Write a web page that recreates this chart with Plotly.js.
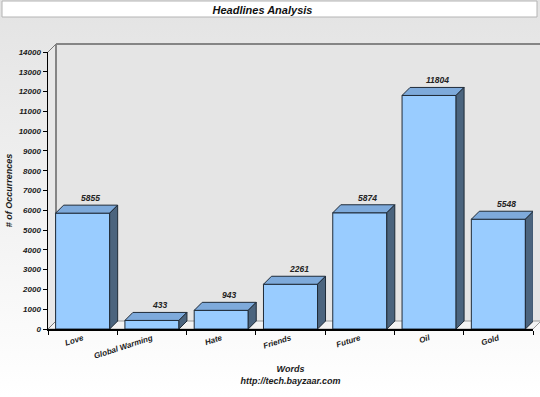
<!DOCTYPE html>
<html>
<head>
<meta charset="utf-8">
<script src="https://cdn.plot.ly/plotly-3.0.1.min.js"></script>
<style>
html,body{margin:0;padding:0;}
body{width:540px;height:397px;background:linear-gradient(to bottom,#e3e3e3 0px,#e6e6e6 40px,#ffffff 397px);}
#chart{width:540px;height:397px;}
</style>
</head>
<body>
<div id="chart"></div>
<script>
// ---- data ----
const categories = ['Love', 'Global Warming', 'Hate', 'Friends', 'Future', 'Oil', 'Gold'];
const occurrences = [5855, 433, 943, 2261, 5874, 11804, 5548];
const chartTitle = 'Headlines Analysis';
const xTitle = 'Words<br>http://tech.bayzaar.com';
const yTitle = '# of Occurrences';
const yMax = 14000;
const yStep = 1000;

// ---- geometry (pixels) ----
const L = 48, R = 533, T = 52, B = 329, W = 540, H = 397;
const PW = R - L, PH = B - T;
const D = 8;                       // 3D depth in px
const barW = 0.78;                 // bar width in category units
const n = categories.length;
const dx = D / (PW / n);           // depth in x data units
const dy = D / (PH / yMax);        // depth in y data units
const px = v => (v - L) / PW;      // pixel -> paper x
const py = v => (B - v) / PH;      // pixel -> paper y

const idx = categories.map((c, i) => i);
const bounds = [-0.5].concat(idx.map(i => i + 0.5));

// top faces and side faces from data
const topX = [], topY = [], sideX = [], sideY = [];
occurrences.forEach((v, i) => {
  const x0 = i - barW / 2, x1 = i + barW / 2;
  topX.push(x0, x0 + dx, x1 + dx, x1, x0, null);
  topY.push(v, v + dy, v + dy, v, v, null);
  sideX.push(x1, x1 + dx, x1 + dx, x1, x1, null);
  sideY.push(v, v + dy, dy, 0, v, null);
});

const edge = '#1f2b38';
const font = {family: 'Liberation Sans, Arial, sans-serif', size: 8, color: '#1a1a1a', weight: 'bold', style: 'italic'};
const titleFont = Object.assign({}, font, {size: 9});

const traces = [
  {type: 'bar', x: idx, y: occurrences, width: barW,
   marker: {color: '#99CCFF', line: {color: edge, width: 1}}, hoverinfo: 'skip'},
  {type: 'scatter', mode: 'lines', x: topX, y: topY, fill: 'toself', fillcolor: '#7EAADB',
   line: {color: edge, width: 1}, hoverinfo: 'skip', cliponaxis: false},
  {type: 'scatter', mode: 'lines', x: sideX, y: sideY, fill: 'toself', fillcolor: '#4B647E',
   line: {color: edge, width: 1}, hoverinfo: 'skip', cliponaxis: false}
];

const annotations = occurrences.map((v, i) => ({
  x: i + dx, y: v + dy, xref: 'x', yref: 'y', text: String(v), showarrow: false,
  xanchor: 'center', yanchor: 'bottom', yshift: 0, font: Object.assign({}, font, {size: 8.5, color: '#222'})
}));

const grey = '#858585';
const shapes = [
  // title box
  {type: 'rect', xref: 'paper', yref: 'paper', x0: px(2), x1: px(537), y0: py(1), y1: py(17),
   fillcolor: '#ffffff', line: {color: '#b4b4b4', width: 1}, layer: 'below'},
  // left wall
  {type: 'path', xref: 'paper', yref: 'paper', layer: 'below',
   path: `M${px(L)},${py(T)} L${px(L + D)},${py(T - D)} L${px(L + D)},${py(B - D)} L${px(L)},${py(B)} Z`,
   fillcolor: '#e8e8e8', line: {width: 0}},
  // back wall
  {type: 'rect', xref: 'paper', yref: 'paper', x0: px(L + D), x1: px(541), y0: py(B - D), y1: py(T - D),
   fillcolor: '#e5e5e5', line: {width: 0}, layer: 'below'},
  // floor
  {type: 'path', xref: 'paper', yref: 'paper', layer: 'below',
   path: `M${px(L)},${py(B)} L${px(L + D)},${py(B - D)} L${px(541)},${py(B - D)} L${px(R)},${py(B)} Z`,
   fillcolor: '#f3f3f3', line: {color: '#9a9a9a', width: 1}},
  // wall edges
  {type: 'line', xref: 'paper', yref: 'paper', x0: px(L + D), x1: px(541), y0: py(T - D), y1: py(T - D),
   line: {color: grey, width: 2}, layer: 'below'},
  {type: 'line', xref: 'paper', yref: 'paper', x0: px(L + D), x1: px(L + D), y0: py(T - D), y1: py(B - D),
   line: {color: grey, width: 2}, layer: 'below'},
  {type: 'line', xref: 'paper', yref: 'paper', x0: px(L), x1: px(L + D), y0: py(T), y1: py(T - D),
   line: {color: '#777', width: 1}, layer: 'below'},
  {type: 'line', xref: 'paper', yref: 'paper', x0: px(L), x1: px(L + D), y0: py(B), y1: py(B - D),
   line: {color: '#777', width: 1}, layer: 'below'}
];

const layout = {
  width: W, height: H,
  margin: {l: L, r: W - R, t: T, b: H - B, pad: 0},
  paper_bgcolor: 'rgba(0,0,0,0)', plot_bgcolor: 'rgba(0,0,0,0)',
  showlegend: false,
  title: {text: chartTitle, xref: 'container', yref: 'container', x: 262.5 / W, xanchor: 'center',
          y: 1 - 10 / H, yanchor: 'middle',
          font: {family: 'Liberation Sans, Arial, sans-serif', size: 11, color: '#111', weight: 'bold', style: 'italic'}},
  xaxis: {type: 'linear', range: [-0.5, n - 0.5], tickmode: 'array', tickvals: idx, ticktext: categories,
          ticks: '', tickangle: -18, tickfont: font, showgrid: false, zeroline: false,
          showline: true, linecolor: '#000', linewidth: 1.5, fixedrange: true,
          minor: {tickmode: 'array', tickvals: bounds, ticks: 'outside', ticklen: 4, tickcolor: '#000', tickwidth: 1, showgrid: false},
          title: {text: xTitle, font: titleFont, standoff: 6}},
  yaxis: {range: [0, yMax], dtick: yStep, tick0: 0, tickformat: 'd', ticks: 'outside', ticklen: 4, tickcolor: '#000',
          tickfont: font, showgrid: false, zeroline: false, showline: true, linecolor: '#000', linewidth: 1.5,
          fixedrange: true, title: {text: yTitle, font: titleFont, standoff: 4}},
  shapes: shapes,
  annotations: annotations
};

Plotly.newPlot('chart', traces, layout, {displayModeBar: false, staticPlot: true});
</script>
</body>
</html>
